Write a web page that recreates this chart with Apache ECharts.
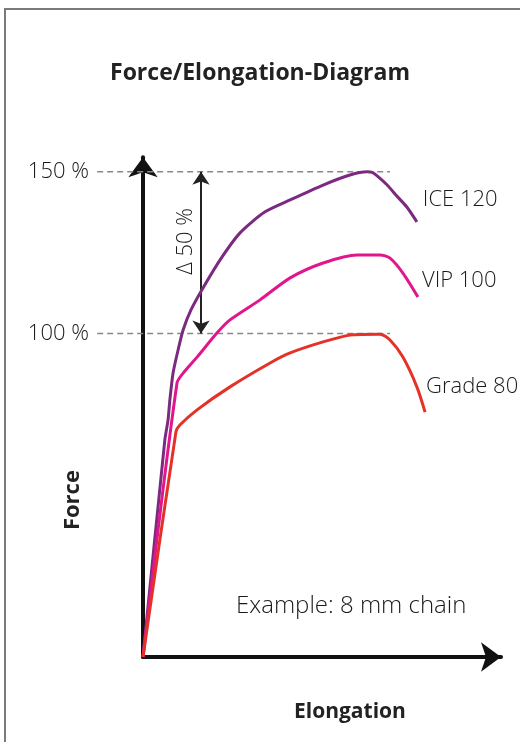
<!DOCTYPE html>
<html><head><meta charset="utf-8">
<script src="https://cdn.jsdelivr.net/npm/echarts@6/dist/echarts.min.js"></script>
<style>
html,body{margin:0;padding:0;background:#fff;}
#chart{position:absolute;left:0;top:0;width:520px;height:742px;}
#frame{position:absolute;left:4px;top:8px;width:516px;height:734px;border-left:2px solid #7a7a7a;border-top:2px solid #7a7a7a;box-sizing:border-box;pointer-events:none;z-index:2;}
</style></head><body>
<div id="chart"></div><div id="frame"></div>
<script>
// ---- data ----
const seriesNames = ['ICE 120', 'VIP 100', 'Grade 80'];
const ice120X = [0, 6.1, 7.0, 7.5, 8.4, 9.8, 11.2, 13.4, 16.4, 21.5, 27.1, 34.1, 41.1, 50.3, 57.8, 62.6, 64.0, 65.4, 68.2, 70.9, 73.7, 76.5];
const ice120Y = [0, 67.1, 73.3, 79.4, 87.8, 94.9, 101.1, 107.3, 113.4, 122.7, 131.1, 137.6, 141.3, 145.9, 149.0, 150.0, 149.8, 148.7, 145.9, 142.5, 139.1, 134.5];
const vip100X = [0, 9.5, 11.7, 15.1, 20.7, 24.3, 32.7, 41.1, 50.3, 59.8, 66.2, 69.0, 72.6, 76.8];
const vip100Y = [0, 84.7, 88.4, 92.7, 100.2, 104.2, 110.4, 117.2, 121.8, 124.3, 124.3, 123.3, 118.7, 111.3];
const grade80X = [0, 9.2, 10.3, 15.1, 24.3, 35.5, 41.1, 50.3, 57.8, 66.2, 69.0, 72.6, 76.5, 78.8];
const grade80Y = [0, 69.6, 71.7, 76.4, 83.5, 90.9, 94.0, 97.4, 99.5, 99.8, 98.0, 92.7, 83.5, 75.7];
const yTickLabels = [100, 150];
const refLineX = [-12.8, 69];
const deltaX = 16.2;
const titleText = 'Force/Elongation-Diagram';
const xName = 'Elongation';
const yName = 'Force';
const noteText = 'Example: 8 mm chain';
const deltaText = 'Δ 50 %';

const colors = ['#7b2a80', '#e2168c', '#e53228'];
const labelOffsets = [[-2, -22], [-4, -16], [-7, -25]];
const FONT = "'Open Sans', 'Noto Sans', sans-serif";

function pairs(xs, ys) { return xs.map((x, i) => [x, ys[i]]); }
const curves = [pairs(ice120X, ice120Y), pairs(vip100X, vip100Y), pairs(grade80X, grade80Y)];

const chart = echarts.init(document.getElementById('chart'), null, { renderer: 'canvas' });

const axisLineStyle = { color: '#111', width: 4 };

const series = curves.map((d, i) => ({
  name: seriesNames[i],
  type: 'line',
  data: d,
  symbol: 'none',
  smooth: 0.25,
  lineStyle: { color: colors[i], width: 3 },
  z: 5,
  endLabel: {
    show: true, formatter: '{a}', offset: labelOffsets[i],
    fontSize: 22, color: '#1a1a1a', fontFamily: FONT, fontWeight: 300
  }
}));

// delta arrow between the two reference levels
series.push({
  type: 'line',
  data: [],
  silent: true,
  markLine: {
    silent: true,
    symbol: ['arrow', 'arrow'],
    symbolSize: [13, 13],
    label: { show: false },
    lineStyle: { type: 'solid', color: '#222', width: 2 },
    data: [[{ coord: [deltaX, yTickLabels[0]] }, { coord: [deltaX, yTickLabels[1]] }]]
  }
});

chart.setOption({
  animation: false,
  backgroundColor: '#fff',
  title: [
    { text: titleText, left: 'center', top: 57,
      textStyle: { fontSize: 23, fontWeight: 'bold', color: '#222', fontFamily: FONT } },
    { text: xName, left: 289, top: 697,
      textStyle: { fontSize: 21, fontWeight: 'bold', color: '#222', fontFamily: FONT } },
    { text: noteText, left: 231, top: 589,
      textStyle: { fontSize: 24, fontWeight: 300, color: '#1a1a1a', fontFamily: FONT } }
  ],
  grid: { left: 143, right: 19, top: 157.2, bottom: 85 },
  xAxis: {
    type: 'value', min: 0, max: 100,
    axisLine: { show: true, onZero: false, lineStyle: axisLineStyle, symbol: ['none', 'arrow'], symbolSize: [22, 20] },
    axisTick: { show: false }, axisLabel: { show: false }, splitLine: { show: false }
  },
  yAxis: {
    type: 'value', min: 0, max: 154.5, interval: 50,
    axisLine: { show: true, onZero: false, lineStyle: axisLineStyle, symbol: ['none', 'arrow'], symbolSize: [22, 20] },
    axisTick: { show: false },
    axisLabel: {
      margin: 54, fontSize: 22, color: '#1a1a1a', fontFamily: FONT, fontWeight: 300,
      formatter: v => (yTickLabels.indexOf(v) >= 0 ? v + ' %' : '')
    },
    splitLine: { show: false }
  },
  series: series
});

const graphics = yTickLabels.map(v => {
  const p1 = chart.convertToPixel({ gridIndex: 0 }, [refLineX[0], v]);
  const p2 = chart.convertToPixel({ gridIndex: 0 }, [refLineX[1], v]);
  return { type: 'line', z: 1, silent: true,
    shape: { x1: p1[0], y1: p1[1], x2: p2[0], y2: p2[1] },
    style: { stroke: '#888', lineWidth: 1.5, lineDash: [6, 4] } };
});
const deltaPos = chart.convertToPixel({ gridIndex: 0 }, [12, 128.5]);
const forcePos = chart.convertToPixel({ gridIndex: 0 }, [-19.7, 48.5]);
graphics.push(
  { type: 'text', x: deltaPos[0], y: deltaPos[1], rotation: Math.PI / 2, z: 10,
    style: { text: deltaText, fontSize: 22, fontFamily: FONT, fontWeight: 300, fill: '#1a1a1a', align: 'center', verticalAlign: 'middle' } },
  { type: 'text', x: forcePos[0], y: forcePos[1], rotation: Math.PI / 2, z: 10,
    style: { text: yName, fontSize: 22, fontFamily: FONT, fontWeight: 'bold', fill: '#222', align: 'center', verticalAlign: 'middle' } }
);
chart.setOption({ graphic: graphics });
</script>
</body></html>
